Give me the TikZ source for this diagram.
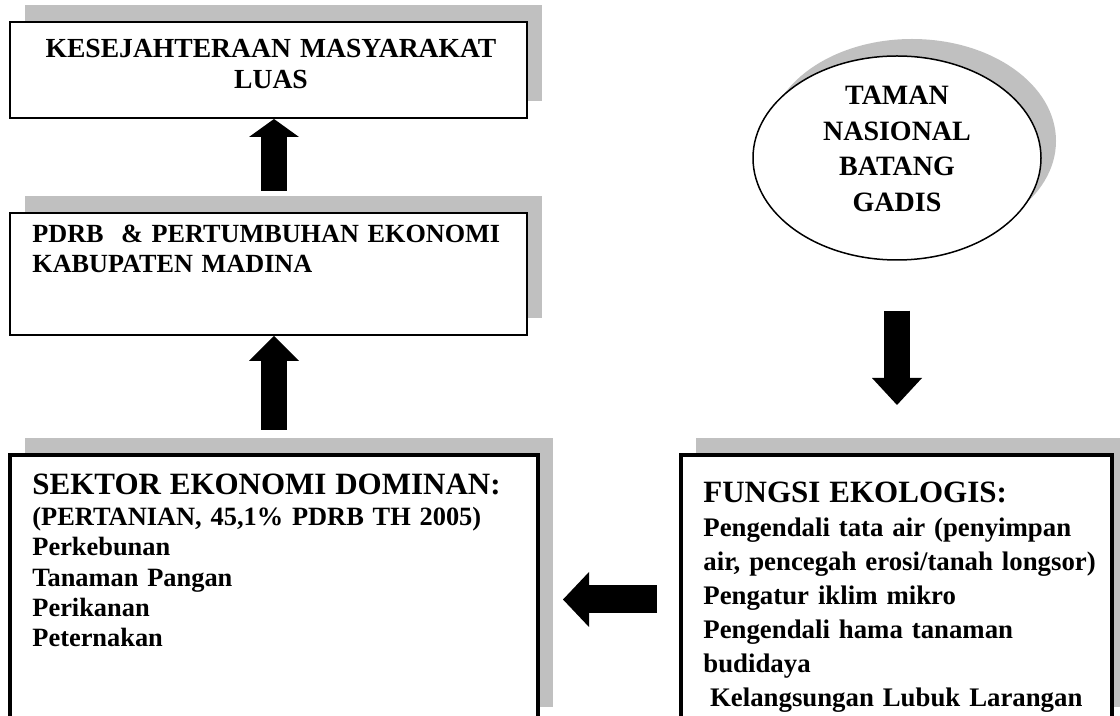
\documentclass[tikz,border=0pt]{standalone}
\usepackage{fontspec}
\setmainfont{Liberation Serif}
\usetikzlibrary{shapes.geometric,shadows,arrows.meta,positioning,calc}
\definecolor{shadowgrey}{RGB}{192,192,192}

\begin{document}
\begin{tikzpicture}[x=0.5pt,y=-0.5pt,
    panel/.style={draw, line width=1pt, fill=white, inner sep=0pt,
      general shadow={shadow xshift=7.5pt, shadow yshift=8.5pt, fill=shadowgrey}},
    widepanel/.style={panel, line width=2pt},
    boxtext/.style={inner sep=0pt, anchor=base west, align=left, text width=#1},
    bigarrow/.style={line width=13pt,
      -{Triangle[width=25pt 0 0, length=#1 0 0, line width=0pt 0 0]}}]
    \useasboundingbox (0,0) rectangle (1120,716);
    \clip (0,0) rectangle (1120,716);

    % Top box
    \node[panel, minimum width=258.5pt, minimum height=48pt] (kesej) at (268.5,70) {};
    \node[inner sep=0pt, anchor=base, align=center, text width=250pt,
      font=\fontsize{13.8pt}{15.5pt}\selectfont\bfseries] (kesejtxt) at (271,58)
      {KESEJAHTERAAN MASYARAKAT\\LUAS};

    % PDRB box
    \node[panel, minimum width=258.5pt, minimum height=61pt] (pdrb) at (268.5,274) {};
    \node[boxtext=250pt, font=\fontsize{13.1pt}{15pt}\selectfont\bfseries] (pdrbtxt) at (32,243)
      {PDRB\ \ \& PERTUMBUHAN EKONOMI\\KABUPATEN MADINA};

    % Sektor box
    \node[widepanel, minimum width=264pt, minimum height=134.5pt] (sektor) at (274,589.5) {};
    \node[boxtext=250pt, font=\fontsize{13.2pt}{15.2pt}\selectfont\bfseries] (sektortxt) at (32,495)
      {{\fontsize{15.5pt}{15.2pt}\selectfont SEKTOR EKONOMI DOMINAN:}\\
       (PERTANIAN, 45,1\% PDRB TH 2005)\\Perkebunan\\Tanaman Pangan\\Perikanan\\Peternakan};

    % Taman Nasional
    \node[panel, ellipse, line width=0.75pt, minimum width=144pt, minimum height=102pt] (taman) at (897,158) {};
    \node[inner sep=0pt, anchor=base, align=center, text width=140pt,
      font=\fontsize{14pt}{17.75pt}\selectfont\bfseries] (tamantxt) at (897,105)
      {TAMAN\\NASIONAL\\BATANG\\GADIS};

    % Fungsi ekologis box
    \node[widepanel, minimum width=215.5pt, minimum height=134.5pt] (fungsi) at (896.5,589.5) {};
    \node[boxtext=215pt, font=\fontsize{13.4pt}{17pt}\selectfont\bfseries] (fungsitxt) at (703,503)
      {{\fontsize{15.5pt}{17pt}\selectfont FUNGSI EKOLOGIS:}\\
       Pengendali tata air (penyimpan\\air, pencegah erosi/tanah longsor)\\
       Pengatur iklim mikro\\Pengendali hama tanaman\\budidaya\\
       \hspace*{0.25em}Kelangsungan Lubuk Larangan};

    % Block arrows
    \draw[bigarrow=9pt, shorten <=10.5pt] (sektor.north |- pdrb.north) -- (sektor.north |- kesej.south);
    \draw[bigarrow=12.5pt, shorten <=11.5pt] (sektor.north) -- (sektor.north |- pdrb.south);
    \draw[bigarrow=13.5pt, shorten <=25pt, shorten >=24pt] (taman.south) -- (taman.south |- fungsi.north);
    \draw[line width=14pt, -{Triangle[width=27.5pt 0 0, length=13pt 0 0, line width=0pt 0 0]},
      shorten <=11pt, shorten >=11.5pt] ([yshift=-5pt]fungsi.west) -- ([yshift=-5pt]sektor.east);
\end{tikzpicture}
\end{document}
